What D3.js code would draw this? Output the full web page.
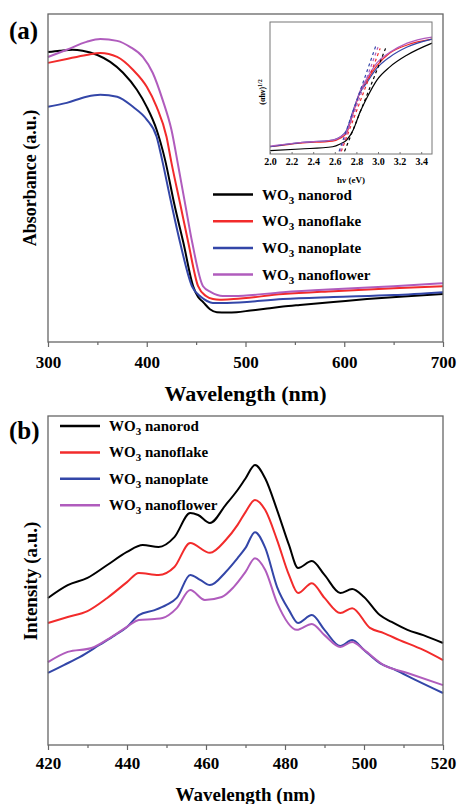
<!DOCTYPE html>
<html>
<head>
<meta charset="utf-8">
<script src="https://cdn.jsdelivr.net/npm/d3@7"></script>
<style>
body { margin: 0; background: #fff; }
text { font-family: "Liberation Serif", "Times New Roman", serif; font-weight: bold; fill: #000; }
</style>
</head>
<body>
<div id="chart"></div>
<script>
// Sample names and colours
var sampleNames = ["nanorod", "nanoflake", "nanoplate", "nanoflower"];
var sampleColors = ["#000000", "#f22b2b", "#3346a8", "#b05cbd"];
var serif = "Liberation Serif, Times New Roman, serif";

// (a) UV-vis absorbance, [wavelength nm, absorbance a.u.]
var absNanorod = [[300,88.4],[312,88.8],[325,89.1],[335,88.8],[350,87.5],[363,85.4],[376,82.1],[390,76.9],[400,71.7],[410,64.7],[418.5,55.6],[428,41.9],[437,30.4],[447,17],[452,13.7],[457,12.2],[464,10],[471,9.1],[481,9.0],[491,9.1],[505,9.6],[522,10.2],[538,10.8],[555,11.3],[589,12.2],[623,13.1],[660,13.9],[700,14.6]];
var absNanoflake = [[300,85.1],[319,86.3],[339,87.5],[353,88.1],[370,86.9],[386,83],[400,77.8],[410,71.7],[420,62.6],[425,54.7],[434,41.9],[442,30.4],[452,17],[460,14],[467,13.1],[474,12.9],[488,13.1],[538,14.6],[589,15.5],[650,16.4],[700,17]];
var absNanoplate = [[300,71.7],[319,72.9],[339,74.8],[353,75.4],[370,74.8],[386,71.7],[400,67.8],[410,62.6],[415.5,55.6],[424,43.5],[433.7,30.4],[445.8,17],[455,13.7],[461,12.5],[467,11.9],[481,11.9],[538,13.1],[589,13.7],[650,14.3],[700,15.2]];
var absNanoflower = [[300,86.9],[319,89.1],[339,91.5],[353,92.4],[370,91.8],[383,90],[396,86.9],[406,82.1],[416,73.9],[425,64.7],[432,53.5],[439,41.9],[446,30.4],[457,17],[465,15.2],[477,14],[488,14],[538,15.2],[589,16.1],[650,17],[700,17.9]];

// (a) inset: Tauc plot, [hv eV, (ahv)^1/2]
var taucNanorod = [[2.0,2.5],[2.28,3.8],[2.58,5.5],[2.65,7.6],[2.71,10.6],[2.77,18.2],[2.83,31],[2.9,43],[2.99,56],[3.11,66],[3.27,75],[3.5,84]];
var taucNanoflake = [[2.0,5.5],[2.28,8.3],[2.58,9.8],[2.65,12],[2.71,16],[2.77,31],[2.83,46],[2.9,56],[2.99,67],[3.11,76.5],[3.27,82.6],[3.5,87]];
var taucNanoplate = [[2.0,5.5],[2.28,8.6],[2.58,10.6],[2.65,12.9],[2.71,18.2],[2.77,33],[2.83,46],[2.9,54.5],[2.99,65],[3.11,73.5],[3.27,81],[3.5,87]];
var taucNanoflower = [[2.0,6],[2.28,8.7],[2.58,10.6],[2.65,12.9],[2.71,17.4],[2.77,32],[2.83,47],[2.9,57.6],[2.99,69],[3.11,77],[3.27,84],[3.5,88.6]];
// tangent lines (start, end)
var tangentLines = [
    [[2.69,2],[3.07,80]],
    [[2.66,2],[3.02,80]],
    [[2.64,2],[2.98,82]],
    [[2.65,2],[3.00,81]]
];

// (b) PL intensity, [wavelength nm, intensity a.u.]
var plNanorod = [[420,44.7],[425,48.6],[430,50.8],[435,54.7],[440,58.7],[444,60.8],[448,60.2],[452,63.2],[456,70.5],[458,69.9],[461,67.5],[465,73],[468,77.5],[470,81],[472.4,85.1],[475,81],[478,71.4],[481,60.8],[483.3,53.8],[486.8,55.9],[490,51.7],[494,46.2],[497,47.4],[500,45],[504,39.5],[507,37.4],[511,35],[515,33.4],[520,31]];
var plNanoflake = [[420,37.1],[425,38.9],[430,40.7],[435,44.7],[440,49.5],[443,52.3],[448,51.7],[452,54.1],[456,61.4],[461,58.4],[465,62.3],[468,66.9],[470,70.8],[472.4,74.5],[475,71.4],[478,62.3],[481,51.7],[483.3,46.2],[486.8,49.2],[490,44.7],[494,40.1],[497,41.6],[501.5,35.6],[505,34],[509,31.9],[515,28.9],[520,25.8]];
var plNanoplate = [[420,21.9],[424,24.3],[428,26.7],[433,30.4],[437,33.4],[440,35.9],[443,39.5],[447,41],[450,42.6],[452.6,44.7],[456,51.7],[458.5,50.2],[461,48.6],[465,52.6],[468,56.8],[470,59.9],[472.4,64.7],[475,59.9],[478,48],[481,41],[483.3,37.1],[486.8,39.5],[490,35],[494,30.1],[497,31.9],[500,28.9],[504,24.9],[508,22.8],[513,19.8],[520,15.8]];
var plNanoflower = [[420,25.2],[425,28.3],[431,29.5],[436,32.8],[440,35.9],[443,38],[447,38.3],[449,38.6],[452.6,41.6],[456,47.1],[459.7,44.1],[464,45],[467,48],[470,52.6],[472.4,56.8],[475,53.2],[478,43.2],[483,35],[486.8,36.8],[490,33.4],[494,29.8],[497,31.3],[500,28.9],[505,24.3],[511,21.9],[520,18.2]];

var absSeries = [absNanorod, absNanoflake, absNanoplate, absNanoflower];
var taucSeries = [taucNanorod, taucNanoflake, taucNanoplate, taucNanoflower];
var plSeries = [plNanorod, plNanoflake, plNanoplate, plNanoflower];

var frameColor = "#666";

var svg = d3.select("#chart")
    .append("svg")
    .attr("width", 459)
    .attr("height", 804)
    .attr("font-family", serif);

// helper: bottom axis with major + minor ticks
function bottomAxis(scale, y, major, minor, fmt, size, pad) {
    var g = svg.append("g").attr("transform", `translate(0, ${y})`);
    g.append("g")
        .call(d3.axisBottom(scale).tickValues(minor).tickSize(3).tickFormat(""))
        .call(a => a.select(".domain").remove());
    g.append("g")
        .call(d3.axisBottom(scale).tickValues(major).tickSize(5).tickPadding(pad).tickFormat(fmt))
        .call(a => a.select(".domain").remove());
    g.selectAll("g").attr("font-family", serif).attr("font-weight", "bold");
    g.selectAll("line").attr("stroke", frameColor).attr("stroke-width", 1.2);
    g.selectAll("text").attr("font-size", size).attr("font-family", serif);
    return g;
}

function legendRow(x, y, i) {
    svg.append("line")
        .attr("x1", x).attr("x2", x + 40)
        .attr("y1", y).attr("y2", y)
        .attr("stroke", sampleColors[i])
        .attr("stroke-width", 2.5);
    var t = svg.append("text")
        .attr("x", x + 49)
        .attr("y", y + 5)
        .attr("font-size", 15);
    t.append("tspan").text("WO");
    t.append("tspan").attr("dy", 4).attr("font-size", 11).text("3");
    t.append("tspan").attr("dy", -4).text(" " + sampleNames[i]);
}

// ---------- Panel (a) ----------
var xA = d3.scaleLinear().domain([300, 700]).range([48, 443]);
var yA = d3.scaleLinear().domain([0, 100]).range([342, 14]);

var lineA = d3.line()
    .x(d => xA(d[0]))
    .y(d => yA(d[1]))
    .curve(d3.curveMonotoneX);

svg.selectAll(".absLine").data(absSeries).enter()
    .append("path")
    .attr("class", "absLine")
    .attr("d", lineA)
    .attr("fill", "none")
    .attr("stroke", (d, i) => sampleColors[i])
    .attr("stroke-width", 2);

svg.append("rect")
    .attr("x", 48).attr("y", 14)
    .attr("width", 395).attr("height", 328)
    .attr("fill", "none")
    .attr("stroke", frameColor)
    .attr("stroke-width", 1.3);

bottomAxis(xA, 342, [300, 400, 500, 600, 700], [350, 450, 550, 650], d3.format("d"), 17, 9);

svg.append("text")
    .attr("x", 245.5).attr("y", 401)
    .attr("text-anchor", "middle")
    .attr("font-size", 22)
    .text("Wavelength (nm)");

svg.append("text")
    .attr("transform", "translate(36, 178) rotate(-90)")
    .attr("text-anchor", "middle")
    .attr("font-size", 18)
    .text("Absorbance (a.u.)");

svg.append("text")
    .attr("x", 9).attr("y", 39)
    .attr("font-size", 25)
    .text("(a)");

sampleNames.forEach((n, i) => legendRow(213, 194.5 + i * 26.7, i));

// inset
var xI = d3.scaleLinear().domain([2.0, 3.5]).range([270, 432]);
var yI = d3.scaleLinear().domain([0, 100]).range([154, 22]);

var lineI = d3.line()
    .x(d => xI(d[0]))
    .y(d => yI(d[1]))
    .curve(d3.curveMonotoneX);

svg.selectAll(".taucLine").data(taucSeries).enter()
    .append("path")
    .attr("class", "taucLine")
    .attr("d", lineI)
    .attr("fill", "none")
    .attr("stroke", (d, i) => sampleColors[i])
    .attr("stroke-width", 1.2);

svg.selectAll(".tangent").data(tangentLines).enter()
    .append("path")
    .attr("class", "tangent")
    .attr("d", d3.line().x(d => xI(d[0])).y(d => yI(d[1])))
    .attr("fill", "none")
    .attr("stroke", (d, i) => sampleColors[i])
    .attr("stroke-width", 1.2)
    .attr("stroke-dasharray", "3,3");

svg.append("rect")
    .attr("x", 270).attr("y", 22)
    .attr("width", 162).attr("height", 132)
    .attr("fill", "none")
    .attr("stroke", "#777")
    .attr("stroke-width", 1);

var insetAxis = svg.append("g")
    .attr("transform", "translate(0, 154)")
    .call(d3.axisBottom(xI).tickValues(d3.range(2.0, 3.41, 0.2)).tickSize(-2).tickPadding(4).tickFormat(d3.format(".1f")))
    .call(a => a.select(".domain").remove())
    .attr("font-family", serif);
insetAxis.selectAll("line").attr("stroke", "#777");
insetAxis.selectAll("text").attr("font-size", 10).attr("font-family", serif);

svg.append("text")
    .attr("x", 351).attr("y", 183)
    .attr("text-anchor", "middle")
    .attr("font-size", 9)
    .text("hν (eV)");

var tauY = svg.append("text")
    .attr("transform", "translate(265, 92) rotate(-90)")
    .attr("text-anchor", "middle")
    .attr("font-size", 8);
tauY.append("tspan").text("(αhν)");
tauY.append("tspan").attr("dy", -3).attr("font-size", 6).text("1/2");

// ---------- Panel (b) ----------
var xB = d3.scaleLinear().domain([420, 520]).range([48, 443]);
var yB = d3.scaleLinear().domain([0, 100]).range([745, 416]);

var lineB = d3.line()
    .x(d => xB(d[0]))
    .y(d => yB(d[1]))
    .curve(d3.curveMonotoneX);

svg.selectAll(".plLine").data(plSeries).enter()
    .append("path")
    .attr("class", "plLine")
    .attr("d", lineB)
    .attr("fill", "none")
    .attr("stroke", (d, i) => sampleColors[i])
    .attr("stroke-width", 2);

svg.append("rect")
    .attr("x", 48).attr("y", 416)
    .attr("width", 395).attr("height", 329)
    .attr("fill", "none")
    .attr("stroke", frameColor)
    .attr("stroke-width", 1.3);

bottomAxis(xB, 745, [420, 440, 460, 480, 500, 520], [430, 450, 470, 490, 510], d3.format("d"), 17, 7);

svg.append("text")
    .attr("x", 245.5).attr("y", 801)
    .attr("text-anchor", "middle")
    .attr("font-size", 19)
    .text("Wavelength (nm)");

svg.append("text")
    .attr("transform", "translate(37, 581) rotate(-90)")
    .attr("text-anchor", "middle")
    .attr("font-size", 19)
    .text("Intensity (a.u.)");

svg.append("text")
    .attr("x", 9).attr("y", 439)
    .attr("font-size", 25)
    .text("(b)");

sampleNames.forEach((n, i) => legendRow(60, 426 + i * 26.4, i));
</script>
</body>
</html>
